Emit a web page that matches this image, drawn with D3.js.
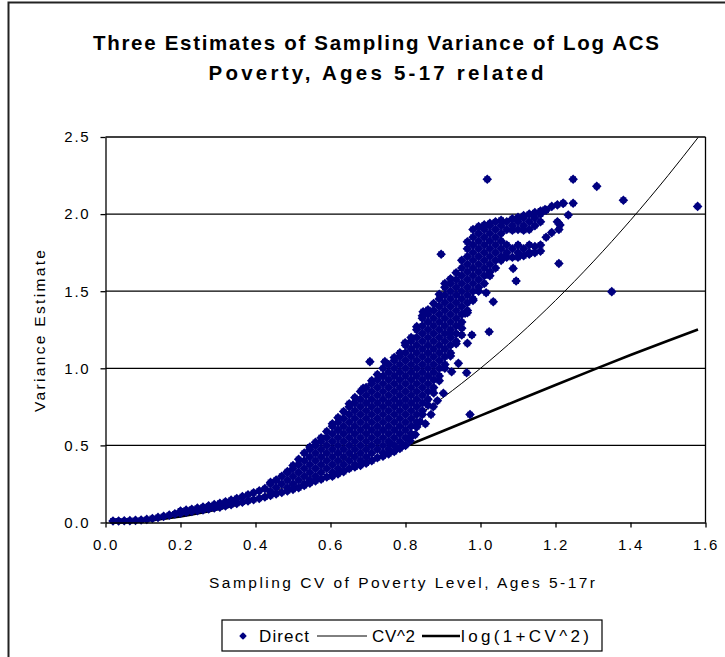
<!DOCTYPE html>
<html><head><meta charset="utf-8">
<script src="https://cdn.jsdelivr.net/npm/d3@7"></script>
<style>body{margin:0;background:#fff}svg{display:block}</style>
</head><body>
<svg id="chart" width="725" height="657"></svg>
<script>
const titleLines = ["Three Estimates of Sampling Variance of Log ACS", "Poverty, Ages 5-17 related"];
const xTitle = "Sampling CV of Poverty Level, Ages 5-17r";
const yTitle = "Variance Estimate";
const xTicks = [0, 0.2, 0.4, 0.6, 0.8, 1.0, 1.2, 1.4, 1.6];
const yTicks = [0, 0.5, 1.0, 1.5, 2.0, 2.5];
const legendLabels = ["Direct", "CV^2", "log(1+CV^2)"];

// Reference curves
const curveX   = [0.02, 0.1, 0.2, 0.3, 0.4, 0.5, 0.6, 0.7, 0.8, 0.9, 1.0, 1.1, 1.2, 1.3, 1.4, 1.5, 1.58];
const cv2Y     = [0.0004, 0.01, 0.04, 0.09, 0.16, 0.25, 0.36, 0.49, 0.64, 0.81, 1.0, 1.21, 1.44, 1.69, 1.96, 2.25, 2.496];
const logCv2Y  = [0.0004, 0.01, 0.039, 0.086, 0.148, 0.223, 0.307, 0.398, 0.495, 0.593, 0.693, 0.793, 0.892, 0.990, 1.086, 1.179, 1.252];

// Direct estimates: columns of [CV, list of variance values] read off the scatter cloud
const directCols = [
 [0.020,[0.010]],[0.035,[0.010]],[0.050,[0.011]],[0.065,[0.012]],[0.080,[0.014]],[0.095,[0.016]],
 [0.110,[0.020]],[0.125,[0.026]],[0.140,[0.033]],[0.155,[0.040]],[0.170,[0.048]],[0.185,[0.056]],
 [0.200,[0.060,0.075]],[0.215,[0.066,0.080]],[0.230,[0.072,0.086]],[0.245,[0.077,0.093]],
 [0.260,[0.082,0.100]],[0.275,[0.088,0.108]],[0.290,[0.094,0.116]],[0.305,[0.100,0.125]],
 [0.320,[0.108,0.135]],[0.335,[0.116,0.145]],[0.350,[0.124,0.156]],[0.365,[0.132,0.168]],
 [0.380,[0.140,0.180]],[0.395,[0.148,0.193]],[0.410,[0.156,0.205]],[0.425,[0.165,0.220]],
 [0.440,[0.175,0.20,0.25,0.26]],
 [0.455,[0.185,0.225,0.275]],
 [0.470,[0.195,0.25,0.30]],
 [0.485,[0.205,0.225,0.275,0.325,0.33]],
 [0.500,[0.215,0.25,0.30,0.35,0.37]],
 [0.515,[0.225,0.275,0.325,0.375,0.41]],
 [0.530,[0.24,0.25,0.30,0.35,0.40,0.45]],
 [0.545,[0.255,0.275,0.325,0.375,0.425,0.475,0.49]],
 [0.560,[0.27,0.30,0.35,0.40,0.45,0.50,0.52]],
 [0.575,[0.28,0.325,0.375,0.425,0.475,0.525,0.55]],
 [0.590,[0.295,0.35,0.40,0.45,0.50,0.55,0.59]],
 [0.605,[0.30,0.325,0.375,0.425,0.475,0.525,0.575,0.625,0.64]],
 [0.620,[0.315,0.35,0.40,0.45,0.50,0.55,0.60,0.65,0.68]],
 [0.635,[0.33,0.375,0.425,0.475,0.525,0.575,0.625,0.675,0.72]],
 [0.650,[0.35,0.40,0.45,0.50,0.55,0.60,0.65,0.70,0.75,0.77]],
 [0.665,[0.36,0.375,0.425,0.475,0.525,0.575,0.625,0.675,0.725,0.775,0.81]],
 [0.680,[0.37,0.40,0.45,0.50,0.55,0.60,0.65,0.70,0.75,0.80,0.85]],
 [0.695,[0.385,0.425,0.475,0.525,0.575,0.625,0.675,0.725,0.775,0.825,0.875]],
 [0.710,[0.40,0.45,0.50,0.55,0.60,0.65,0.70,0.75,0.80,0.85,0.90,0.92]],
 [0.725,[0.42,0.475,0.525,0.575,0.625,0.675,0.725,0.775,0.825,0.875,0.925,0.96]],
 [0.740,[0.43,0.45,0.50,0.55,0.60,0.65,0.70,0.75,0.80,0.85,0.90,0.95,1.0]],
 [0.755,[0.445,0.475,0.525,0.575,0.625,0.675,0.725,0.775,0.825,0.875,0.925,0.975,1.025]],
 [0.770,[0.46,0.50,0.55,0.60,0.65,0.70,0.75,0.80,0.85,0.90,0.95,1.0,1.05,1.07]],
 [0.785,[0.48,0.525,0.575,0.625,0.675,0.725,0.775,0.825,0.875,0.925,0.975,1.025,1.075,1.10]],
 [0.800,[0.50,0.55,0.60,0.65,0.70,0.75,0.80,0.85,0.90,0.95,1.0,1.05,1.10,1.15]],
 [0.815,[0.56,0.575,0.625,0.675,0.725,0.775,0.825,0.875,0.925,0.975,1.025,1.075,1.125,1.175,1.20]],
 [0.830,[0.62,0.65,0.70,0.75,0.80,0.85,0.90,0.95,1.0,1.05,1.10,1.15,1.20,1.25,1.27]],
 [0.845,[0.70,0.725,0.775,0.825,0.875,0.925,0.975,1.025,1.075,1.125,1.175,1.225,1.275,1.325,1.34]],
 [0.860,[0.76,0.80,0.85,0.90,0.95,1.0,1.05,1.10,1.15,1.20,1.25,1.30,1.35,1.38]],
 [0.875,[0.84,0.875,0.925,0.975,1.025,1.075,1.125,1.175,1.225,1.275,1.325,1.375,1.42]],
 [0.890,[0.92,0.95,1.0,1.05,1.10,1.15,1.20,1.25,1.30,1.35,1.40,1.45,1.48]],
 [0.905,[1.0,1.025,1.075,1.125,1.175,1.225,1.275,1.325,1.375,1.425,1.475,1.525,1.55]],
 [0.920,[1.08,1.10,1.15,1.20,1.25,1.30,1.35,1.40,1.45,1.50,1.55,1.58]],
 [0.935,[1.16,1.175,1.225,1.275,1.325,1.375,1.425,1.475,1.525,1.575,1.62]],
 [0.950,[1.26,1.30,1.35,1.40,1.45,1.50,1.55,1.60,1.65,1.70]],
 [0.965,[1.36,1.375,1.425,1.475,1.525,1.575,1.625,1.675,1.725,1.775,1.82]],
 [0.980,[1.44,1.45,1.50,1.55,1.60,1.65,1.70,1.75,1.80,1.85,1.90]],
 [0.995,[1.50,1.525,1.575,1.625,1.675,1.725,1.775,1.825,1.875,1.92]],
 [1.010,[1.55,1.60,1.65,1.70,1.75,1.80,1.85,1.90,1.93]],
 [1.025,[1.60,1.625,1.675,1.725,1.775,1.825,1.875,1.925,1.94]],
 [1.040,[1.65,1.70,1.75,1.80,1.85,1.90,1.95]],
 [1.055,[1.70,1.725,1.775,1.825,1.875,1.925,1.96]],
 [1.070,[1.72,1.75,1.80,1.90,1.95]],
 [1.085,[1.72,1.775,1.895,1.925,1.97]],
 [1.100,[1.72,1.75,1.80,1.90,1.95,1.98]],
 [1.115,[1.73,1.775,1.895,1.925,1.975,1.99]],
 [1.130,[1.74,1.75,1.80,1.90,1.95,2.00]],
 [1.145,[1.75,1.79,1.925,1.975,2.01]],
 [1.160,[1.76,1.80,1.95,2.0,2.02]],
 [1.175,[1.85,2.025]],
 [1.190,[1.88,2.05]],
 [1.205,[1.95,2.06]],
 [1.220,[2.07]]
];
const directOutliers = [
 [1.018,2.226],[1.247,2.226],[1.31,2.18],[1.381,2.09],[1.579,2.05],[1.35,1.497],[0.895,1.74],
 [1.209,1.68],[1.209,1.90],[1.212,1.93],[1.095,1.566],[1.087,1.648],[1.023,1.237],[1.034,1.432],
 [1.015,1.49],[0.959,1.357],[0.847,1.367],[0.799,1.166],[0.919,1.227],[0.95,1.216],[0.977,1.216],
 [0.965,1.162],[0.941,1.032],[0.963,0.971],[0.923,0.978],[0.901,0.838],[0.972,0.70],[0.874,0.751],
 [0.839,0.654],[0.759,0.514],[0.705,1.043],[1.247,2.07],[1.234,1.994],[1.172,2.03],[1.221,2.07],
 [0.687,0.87],[0.745,1.043],
 [0.812,0.53],[0.826,0.57],[0.853,0.64],[0.868,0.70],[0.885,0.79],[0.792,0.50]
];

const directPoints = directCols.flatMap(([cv, ys]) => ys.map(v => [cv, v])).concat(directOutliers);

const svg = d3.select("#chart");
const font = "'Liberation Sans', Arial, sans-serif";
const navy = "#000080";

// outer chart border
svg.append("rect").attr("x", 8.5).attr("y", 2.5).attr("width", 740).attr("height", 680)
  .attr("fill", "#fff").attr("stroke", "#222").attr("stroke-width", 2);

const x = d3.scaleLinear().domain([0, 1.6]).range([105.5, 705.5]);
const y = d3.scaleLinear().domain([0, 2.5]).range([522.5, 137]);

// gridlines
svg.append("g").selectAll("line").data(yTicks.filter(d => d > 0)).join("line")
  .attr("x1", x(0)).attr("x2", x(1.6)).attr("y1", d => y(d)).attr("y2", d => y(d))
  .attr("stroke", "#000").attr("stroke-width", 1.3);
// right plot border
svg.append("line").attr("x1", x(1.6)).attr("x2", x(1.6)).attr("y1", y(2.5)).attr("y2", y(0))
  .attr("stroke", "#000").attr("stroke-width", 1.3);

// lines (drawn beneath markers)
const lineGen = d3.line().x(d => x(d[0])).y(d => y(d[1])).curve(d3.curveMonotoneX);
svg.append("path").datum(curveX.map((c, i) => [c, cv2Y[i]]))
  .attr("d", lineGen).attr("fill", "none").attr("stroke", "#000").attr("stroke-width", 1);
svg.append("path").datum(curveX.map((c, i) => [c, logCv2Y[i]]))
  .attr("d", lineGen).attr("fill", "none").attr("stroke", "#000").attr("stroke-width", 2.6);

// markers: bumpy diamond like the spreadsheet marker
const marker = "M0,-4.8L4.8,0L0,4.8L-4.8,0Z M-2.9,-2.9H2.9V2.9H-2.9Z";
svg.append("g").selectAll("path").data(directPoints).join("path")
  .attr("d", marker)
  .attr("transform", d => `translate(${x(d[0])},${y(d[1])})`)
  .attr("fill", navy);

// axes
const xAxis = svg.append("g").attr("transform", `translate(0,${y(0)})`)
  .call(d3.axisBottom(x).tickValues(xTicks).tickSize(5).tickSizeOuter(0).tickPadding(12).tickFormat(d3.format(".1f")));
const yAxis = svg.append("g").attr("transform", `translate(${x(0)},0)`)
  .call(d3.axisLeft(y).tickValues(yTicks).tickSize(5).tickSizeOuter(0).tickPadding(10).tickFormat(d3.format(".1f")));
[xAxis, yAxis].forEach(a => {
  a.selectAll("path.domain").attr("stroke", "#000").attr("stroke-width", 1.3);
  a.selectAll(".tick line").attr("stroke", "#000").attr("stroke-width", 1.3);
  a.selectAll("text").attr("font-family", font).attr("font-size", 15).attr("fill", "#000")
    .attr("letter-spacing", 1.8);
});

// titles
const titleLen = [566, 335];
svg.append("g").selectAll("text").data(titleLines).join("text")
  .attr("x", 376).attr("y", (d, i) => 50 + i * 30)
  .attr("text-anchor", "middle").attr("font-family", font).attr("font-weight", "bold")
  .attr("font-size", 20.5).attr("textLength", (d, i) => titleLen[i]).attr("lengthAdjust", "spacing")
  .text(d => d);

svg.append("text").attr("x", 402).attr("y", 588).attr("text-anchor", "middle")
  .attr("font-family", font).attr("font-size", 15.5).attr("textLength", 386).attr("lengthAdjust", "spacing")
  .text(xTitle);
svg.append("text").attr("transform", "translate(45,331) rotate(-90)").attr("text-anchor", "middle")
  .attr("font-family", font).attr("font-size", 15.5).attr("textLength", 162).attr("lengthAdjust", "spacing")
  .text(yTitle);

// legend
const lg = svg.append("g").attr("transform", "translate(222,620)");
lg.append("rect").attr("x", 0).attr("y", 0).attr("width", 380).attr("height", 31)
  .attr("fill", "#fff").attr("stroke", "#000").attr("stroke-width", 1.2);
lg.append("path").attr("d", "M0,-3.8L3.8,0L0,3.8L-3.8,0Z M-2.2,-2.2H2.2V2.2H-2.2Z").attr("transform", "translate(21,16)")
  .attr("fill", navy);
lg.append("line").attr("x1", 95).attr("x2", 145).attr("y1", 16).attr("y2", 16).attr("stroke", "#000").attr("stroke-width", 1);
lg.append("line").attr("x1", 200).attr("x2", 238).attr("y1", 16).attr("y2", 16).attr("stroke", "#000").attr("stroke-width", 2.6);
const legX = [37, 150, 239];
const legLen = [50, 43, 128];
lg.selectAll("text.lab").data(legendLabels).join("text").attr("class", "lab")
  .attr("x", (d, i) => legX[i]).attr("y", 22).attr("font-family", font).attr("font-size", 17)
  .attr("textLength", (d, i) => legLen[i]).attr("lengthAdjust", "spacing").text(d => d);
</script>
</body></html>
